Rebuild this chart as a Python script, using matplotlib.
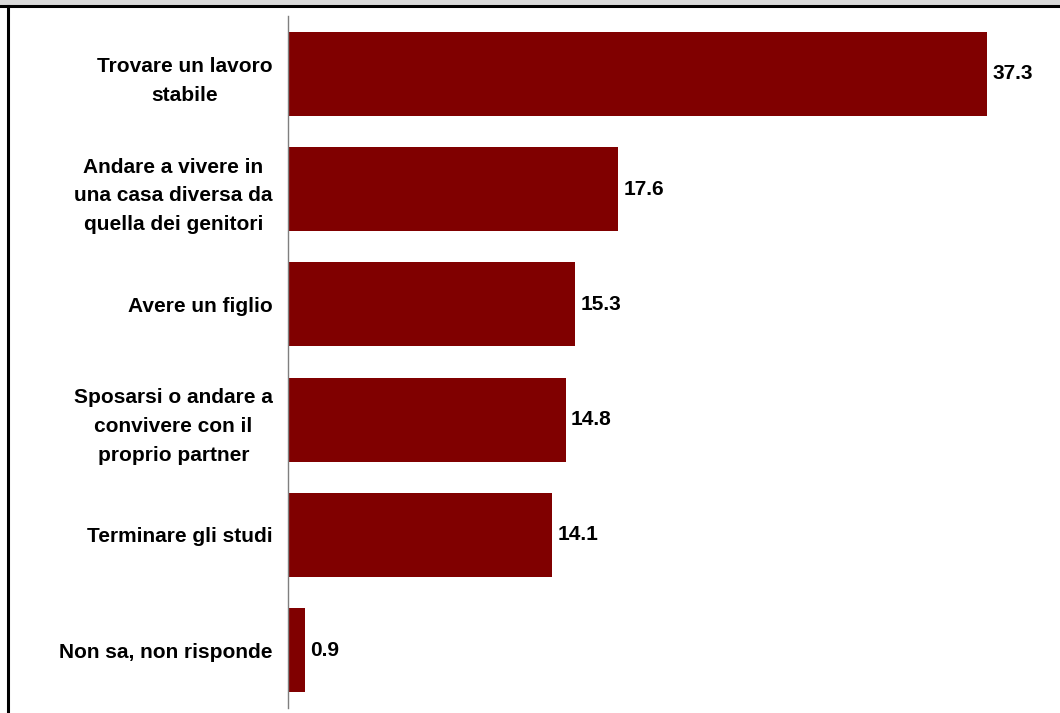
import numpy as np
import matplotlib.pyplot as plt
from matplotlib.lines import Line2D
from matplotlib.patches import Rectangle

plt.rcParams['font.family'] = ['Liberation Sans', 'DejaVu Sans']

categories = [
    'Trovare un lavoro\nstabile',
    'Andare a vivere in\nuna casa diversa da\nquella dei genitori',
    'Avere un figlio',
    'Sposarsi o andare a\nconvivere con il\nproprio partner',
    'Terminare gli studi',
    'Non sa, non risponde',
]
values = [37.3, 17.6, 15.3, 14.8, 14.1, 0.9]

W, H = 1060, 713
fig = plt.figure(figsize=(W / 100, H / 100), dpi=100)
fig.patch.set_facecolor('white')

# axes box in pixels: x 288..1038, y 16..708 (from top)
ax = fig.add_axes([288 / W, (H - 708) / H, 750 / W, 692 / H])
y = np.arange(len(categories))
ax.barh(y, values, height=0.73, color='#800000')
ax.set_xlim(0, 40)
ax.set_ylim(len(categories) - 0.5, -0.5)

for yi, v in zip(y, values):
    ax.text(v + 0.3, yi, f'{v:.1f}', va='center', ha='left',
            fontsize=15, fontweight='bold', color='black')

ax.set_yticks(y)
ax.set_yticklabels(categories, fontsize=15, fontweight='bold')
for t in ax.get_yticklabels():
    t.set_multialignment('center')
    t.set_linespacing(1.66)
ax.tick_params(axis='y', length=0, pad=11)
ax.set_xticks([])
for s in ['top', 'right', 'bottom']:
    ax.spines[s].set_visible(False)
ax.spines['left'].set_color('#7f7f7f')
ax.spines['left'].set_linewidth(1)

# frame decorations: gray band on top, black lines top and left
fig.add_artist(Rectangle((0, (H - 4.5) / H), 1, 4.5 / H, transform=fig.transFigure,
                         facecolor='#d9d9d9', edgecolor='none'))
fig.add_artist(Line2D([0, 1], [(H - 5.5) / H] * 2, transform=fig.transFigure,
                      color='black', linewidth=2.2))
fig.add_artist(Line2D([8 / W] * 2, [0, (H - 5.5) / H], transform=fig.transFigure,
                      color='black', linewidth=2.2))

fig.savefig('out.png', dpi=100)
